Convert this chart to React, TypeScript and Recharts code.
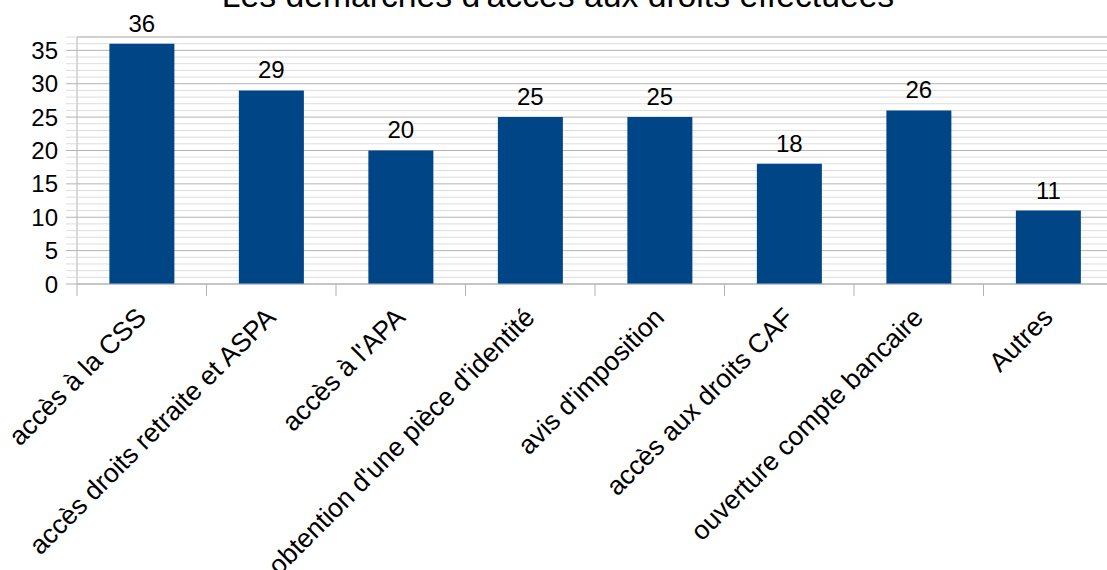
import React from "react";
import { BarChart, Bar, XAxis, YAxis, CartesianGrid, LabelList } from "recharts";

const categories = [
  "accès à la CSS",
  "accès droits retraite et ASPA",
  "accès à l'APA",
  "obtention d'une pièce d'identité",
  "avis d'imposition",
  "accès aux droits CAF",
  "ouverture compte bancaire",
  "Autres",
];
const values = [36, 29, 20, 25, 25, 18, 26, 11];
const yTicks = Array.from({ length: 38 }, (_, i) => i);
const majorTicks = [0, 5, 10, 15, 20, 25, 30, 35];
const minorTicks = yTicks.filter((t) => t % 5 !== 0);
const title = "Les démarches d'accès aux droits effectuées";

const data = categories.map((c, i) => ({ name: c, value: values[i] }));

const FONT = "'Liberation Sans', Arial, sans-serif";
const MAJOR = "#b3b3b3";
const MINOR = "#dddddd";

const YTick = (props: any) => {
  const { x, y, payload } = props;
  const v = payload.value;
  const major = v % 5 === 0;
  return (
    <g>
      <line x1={x - 11} x2={x} y1={y} y2={y} stroke={major ? MAJOR : MINOR} strokeWidth={1} />
      {major && (
        <text x={x - 19} y={y + 8.5} textAnchor="end" fontSize={24} fontFamily={FONT} fill="#000">
          {v}
        </text>
      )}
    </g>
  );
};

const XTick = (props: any) => {
  const { x, y, payload } = props;
  const half = payload && payload.offset ? payload.offset : 64.75;
  const bx = x - half;
  return (
    <g>
      <line x1={bx} x2={bx} y1={y} y2={y + 12} stroke={MAJOR} strokeWidth={1} />
      <text
        transform={`translate(${x + 6},${y + 35}) rotate(-45)`}
        textAnchor="end"
        fontSize={26.5}
        fontFamily={FONT}
        fill="#000"
      >
        {payload.value}
      </text>
    </g>
  );
};

const TopLabel = (props: any) => {
  const { x, y, width, value } = props;
  return (
    <text x={x + width / 2} y={y - 12} textAnchor="middle" fontSize={24} fontFamily={FONT} fill="#000">
      {value}
    </text>
  );
};

export default function App() {
  return (
    <div style={{ position: "absolute", left: 0, top: 0, width: 1107, height: 570, overflow: "hidden", background: "#fff" }}>
      <BarChart
        width={1130}
        height={570}
        data={data}
        margin={{ top: 37, right: 17, left: 0, bottom: 0 }}
        barCategoryGap="25%"
      >
        <CartesianGrid horizontal={true} vertical={false} horizontalValues={minorTicks} stroke={MINOR} strokeDasharray="" />
        <CartesianGrid horizontal={true} vertical={false} horizontalValues={majorTicks.concat([37])} stroke={MAJOR} strokeDasharray="" />
        <YAxis
          type="number"
          domain={[0, 37]}
          ticks={yTicks}
          interval={0}
          width={77}
          tickSize={0}
          tickMargin={0}
          tickLine={false}
          axisLine={{ stroke: MAJOR }}
          tick={<YTick />}
          allowDataOverflow
        />
        <XAxis
          dataKey="name"
          type="category"
          interval={0}
          height={286}
          tickSize={0}
          tickMargin={0}
          tickLine={false}
          axisLine={{ stroke: MAJOR }}
          tick={<XTick />}
        />
        <Bar dataKey="value" fill="#004586" isAnimationActive={false}>
          <LabelList dataKey="value" content={<TopLabel />} />
        </Bar>
      </BarChart>
      <svg width={1107} height={570} style={{ position: "absolute", left: 0, top: 0, pointerEvents: "none" }}>
        <text x={558} y={7} textAnchor="middle" fontSize={33.7} fontFamily={FONT} fill="#000">
          {title}
        </text>
      </svg>
    </div>
  );
}
